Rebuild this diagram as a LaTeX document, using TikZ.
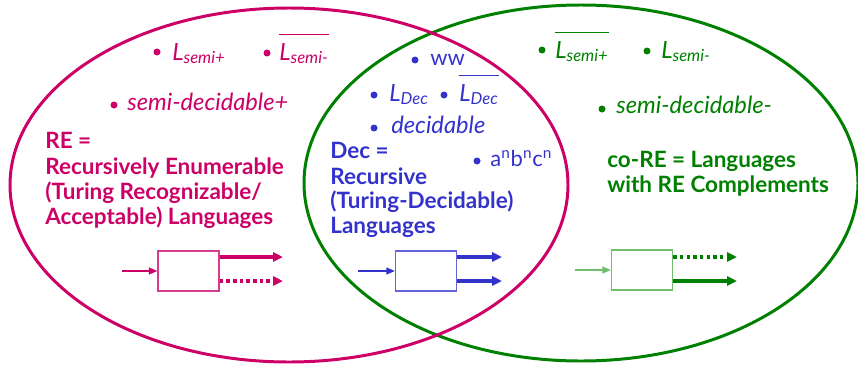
\documentclass[tikz,border=0pt]{standalone}
\usepackage{fontspec}
\setmainfont{Lato}
\usetikzlibrary{arrows.meta}
\definecolor{mag}{RGB}{204,0,102}
\definecolor{blu}{RGB}{51,51,204}
\definecolor{grn}{RGB}{0,128,0}
\definecolor{lgrn}{RGB}{110,190,110}
\definecolor{lblu}{RGB}{100,100,220}
\definecolor{lmag}{RGB}{215,60,140}
\newcommand{\ovl}[1]{$\overline{\mbox{\rule{0pt}{13pt}\itshape #1}}$}
\begin{document}
\begin{tikzpicture}[x=0.02cm,y=-0.02cm,
  ell/.style={line width=1.7pt},
  dotb/.style={circle,fill,inner sep=0pt,minimum size=0.14cm},
  bold/.style={anchor=base west,inner sep=0pt,font=\fontsize{12.8}{15}\selectfont\bfseries},
  ital/.style={anchor=base west,inner sep=0pt,font=\fontsize{13.5}{16}\selectfont\itshape},
  plain/.style={anchor=base west,inner sep=0pt,font=\fontsize{12.5}{15}\selectfont},
  machine/.style={draw,line width=0.8pt,minimum width=1.22cm,minimum height=0.8cm,inner sep=0pt},
  inarrow/.style={line width=0.7pt,-{Triangle[length=0.17cm,width=0.14cm]}},
  outarrow/.style={line width=2pt,-{Triangle[length=0.2cm,width=0.18cm]}},
  dotarrow/.style={outarrow,dash pattern=on 2pt off 1.8pt}]
\useasboundingbox (0,0) rectangle (858,365);
% ellipses
\draw[ell,grn] (581,183) ellipse [x radius=277,y radius=178];
\draw[ell,mag] (289,185) ellipse [x radius=279,y radius=177];

% ---- RE (magenta) ----
\node[dotb,mag] (m1) at (157,52) {};
\node[ital,mag] (mt1) at (172,60) {L\textsubscript{semi+}};
\node[dotb,mag] (m2) at (267,53) {};
\node[ital,mag] (mt2) at (279,60) {\ovl{L\textsubscript{semi-}}};
\node[dotb,mag] (m3) at (114,105) {};
\node[ital,mag] (mt3) at (127,110) {semi-decidable+};
\node[bold,mag] (re1) at (45,148) {RE =};
\node[bold,mag] (re2) at (45,174) {Recursively Enumerable};
\node[bold,mag] (re3) at (45,199) {(Turing Recognizable/};
\node[bold,mag] (re4) at (45,224) {Acceptable) Languages};

\node[machine,lmag] (bx1) at (188.5,271) {};
\coordinate (mi) at (122,271);
\coordinate (mo1) at (283,257);
\coordinate (mo2) at (283,281);
\draw[inarrow,mag] (mi) -- (bx1.west);
\draw[outarrow,mag] (bx1.east |- mo1) -- (mo1);
\draw[dotarrow,mag] (bx1.east |- mo2) -- (mo2);

% ---- Dec (blue) ----
\node[dotb,blu] (b1) at (415,60) {};
\node[plain,blu] (bt1) at (430,65) {ww};
\node[dotb,blu] (b2) at (374,95) {};
\node[ital,blu] (bt2) at (389,101) {L\textsubscript{Dec}};
\node[dotb,blu] (b3) at (444,95) {};
\node[ital,blu] (bt3) at (459,101) {\ovl{L\textsubscript{Dec}}};
\node[dotb,blu] (b4) at (374,128) {};
\node[ital,blu] (bt4) at (391,133) {decidable};
\node[dotb,blu] (b5) at (477,161) {};
\node[plain,blu] (bt5) at (490,166) {a\textsuperscript{n}b\textsuperscript{n}c\textsuperscript{n}};
\node[bold,blu] (de1) at (330,158) {Dec =};
\node[bold,blu] (de2) at (330,184) {Recursive};
\node[bold,blu] (de3) at (330,208) {(Turing-Decidable)};
\node[bold,blu] (de4) at (330,233) {Languages};

\node[machine,lblu] (bx2) at (426,271) {};
\coordinate (bi) at (358,271);
\coordinate (bo1) at (502,257);
\coordinate (bo2) at (502,281);
\draw[inarrow,blu] (bi) -- (bx2.west);
\draw[outarrow,blu] (bx2.east |- bo1) -- (bo1);
\draw[outarrow,blu] (bx2.east |- bo2) -- (bo2);

% ---- co-RE (green) ----
\node[dotb,grn] (g1) at (542,50) {};
\node[ital,grn] (gt1) at (555,58) {\ovl{L\textsubscript{semi+}}};
\node[dotb,grn] (g2) at (647,51) {};
\node[ital,grn] (gt2) at (661,58) {L\textsubscript{semi-}};
\node[dotb,grn] (g3) at (602,109) {};
\node[ital,grn] (gt3) at (616,113) {semi-decidable-};
\node[bold,grn] (co1) at (607,167) {co-RE = Languages};
\node[bold,grn] (co2) at (607,192) {with RE Complements};

\node[machine,lgrn] (bx3) at (642,270) {};
\coordinate (gi) at (575,270);
\coordinate (go1) at (737,257);
\coordinate (go2) at (737,281);
\draw[inarrow,lgrn] (gi) -- (bx3.west);
\draw[dotarrow,grn] (bx3.east |- go1) -- (go1);
\draw[outarrow,grn] (bx3.east |- go2) -- (go2);
\end{tikzpicture}
\end{document}
